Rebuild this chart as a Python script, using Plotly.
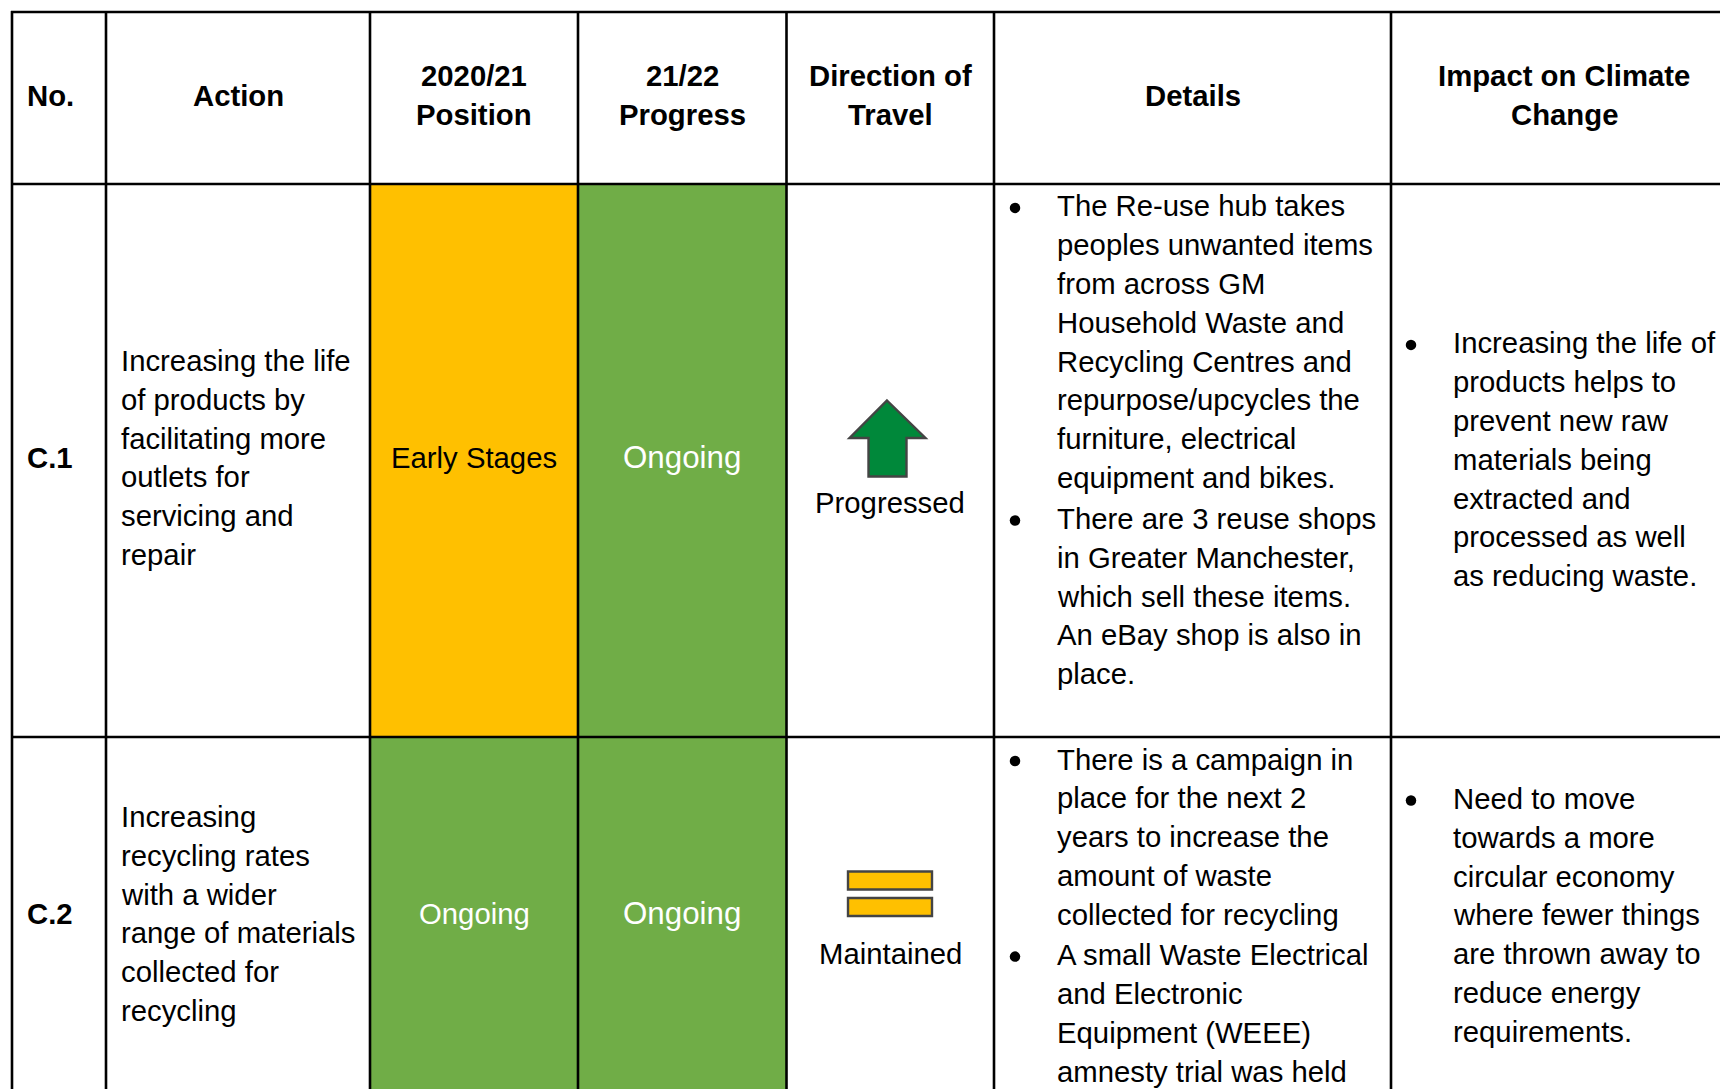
import plotly.graph_objects as go

# ---------- content ----------
headers = [["No."], ["Action"], ["2020/21", "Position"], ["21/22", "Progress"],
           ["Direction of", "Travel"], ["Details"], ["Impact on Climate", "Change"]]
numbers = ["C.1", "C.2"]
actions = [
    ["Increasing the life", "of products by", "facilitating more", "outlets for", "servicing and", "repair"],
    ["Increasing", "recycling rates", "with a wider", "range of materials", "collected for", "recycling"],
]
positions = ["Early Stages", "Ongoing"]
progress = ["Ongoing", "Ongoing"]
directions = ["Progressed", "Maintained"]
details = [
    [["The Re-use hub takes", "peoples unwanted items", "from across GM", "Household Waste and",
      "Recycling Centres and", "repurpose/upcycles the", "furniture, electrical", "equipment and bikes."],
     ["There are 3 reuse shops", "in Greater Manchester,", "which sell these items.", "An eBay shop is also in", "place."]],
    [["There is a campaign in", "place for the next 2", "years to increase the", "amount of waste", "collected for recycling"],
     ["A small Waste Electrical", "and Electronic", "Equipment (WEEE)", "amnesty trial was held"]],
]
impacts = [
    ["Increasing the life of", "products helps to", "prevent new raw", "materials being",
     "extracted and", "processed as well", "as reducing waste."],
    ["Need to move", "towards a more", "circular economy", "where fewer things",
     "are thrown away to", "reduce energy", "requirements."],
]

# ---------- page geometry (pixels) ----------
W, H = 1720, 1089
col_x = [12, 106, 370, 578, 786.5, 994, 1391, 1720]
row_y = [12, 184, 737, 1089]
pitch = 38.8
FS = 29.3
FS_PROGRESS = 31.3
AMBER, GREEN = "#FFC000", "#70AD47"
FONT = "Liberation Sans"
LW = 2.6

fills = {"Early Stages": AMBER, "Ongoing": GREEN}
ROW_C = [457.9, 913.4]
action_top = [360.4, 816.4]
detail_top = [[205.9, 518.5], [759, 954.6]]
impact_top = [342.9, 798.5]
dir_y = [502.7, 953.8]
bullet_x = [1015, 1411]
header_cx = [None, 238, 474, 682, 890, 1192.5, 1564.3]

fig = go.Figure()
ann = []


def text(x, y, s, anchor="left", bold=False, color="#000000", size=FS):
    ann.append(dict(x=x, y=y, xref="x", yref="y", text=f"<b>{s}</b>" if bold else s, showarrow=False,
                    xanchor=anchor, yanchor="middle", borderpad=0,
                    font=dict(family=FONT, size=size, color=color)))


shapes = []
# status fills
for r in range(2):
    for c, vals in ((2, positions), (3, progress)):
        shapes.append(dict(type="rect", x0=col_x[c], x1=col_x[c + 1], y0=row_y[r + 1], y1=row_y[r + 2],
                           fillcolor=fills[vals[r]], line_width=0, layer="below"))
# grid
for x in col_x[:-1]:
    shapes.append(dict(type="line", x0=x, x1=x, y0=row_y[0] - 1, y1=H, line=dict(color="#000", width=LW)))
for y in row_y[:-1]:
    shapes.append(dict(type="line", x0=col_x[0] - 1, x1=W, y0=y, y1=y, line=dict(color="#000", width=LW)))

# direction icons
ARROW = "M 887 400.5 L 925.5 438 L 906.5 438 L 906.5 476.5 L 868.5 476.5 L 868.5 438 L 849.5 438 Z"
shapes.append(dict(type="path", path=ARROW, fillcolor="#00883A", line=dict(color="#444444", width=2.4)))
for y0, y1 in ((871.5, 889.5), (898, 916)):
    shapes.append(dict(type="rect", x0=848, x1=932, y0=y0, y1=y1, fillcolor=AMBER,
                       line=dict(color="#444444", width=2.4)))

# header
for c, lines in enumerate(headers):
    y0 = 95.2 - (len(lines) - 1) * 19.4
    for i, s in enumerate(lines):
        if c == 0:
            text(25.5, y0, s, bold=True)
        else:
            text(header_cx[c], y0 + i * pitch, s, anchor="center", bold=True)

# rows
bx, by, tx, ty = [], [], [], []
for r in range(2):
    text(25.5, ROW_C[r], numbers[r], bold=True)
    for i, s in enumerate(actions[r]):
        text(119.7, action_top[r] + i * pitch, s)
    text((col_x[2] + col_x[3]) / 2, ROW_C[r], positions[r], anchor="center",
         color="#000000" if positions[r] == "Early Stages" else "#FFFFFF")
    text((col_x[3] + col_x[4]) / 2, ROW_C[r], progress[r], anchor="center", color="#FFFFFF", size=FS_PROGRESS)
    text(890, dir_y[r], directions[r], anchor="center")
    for g, group in enumerate(details[r]):
        bx.append(bullet_x[0]); by.append(detail_top[r][g] + 2)
        if r == 0:
            tx.append(bullet_x[0]); ty.append(detail_top[r][g] + 2)
        for i, s in enumerate(group):
            text(1055.5, detail_top[r][g] + i * pitch, s)
    bx.append(bullet_x[1]); by.append(impact_top[r] + 2)
    for i, s in enumerate(impacts[r]):
        text(1451.5, impact_top[r] + i * pitch, s)

fig.add_trace(go.Scatter(x=bx, y=by, mode="markers", hoverinfo="skip",
                         marker=dict(color="#000", size=10.5, line_width=0)))
fig.add_trace(go.Scatter(x=tx, y=ty, mode="markers", hoverinfo="skip",
                         marker=dict(symbol="line-ew", size=7, line=dict(color="#000", width=2))))

fig.update_layout(
    width=W, height=H, margin=dict(l=0, r=0, t=0, b=0), showlegend=False,
    paper_bgcolor="#FFFFFF", plot_bgcolor="#FFFFFF", shapes=shapes, annotations=ann,
    xaxis=dict(range=[0, W], visible=False, fixedrange=True),
    yaxis=dict(range=[H, 0], visible=False, fixedrange=True),
)
fig.write_html("out.html", post_script="document.body.style.margin='0';document.body.style.overflow='hidden';",
               config=dict(displayModeBar=False))
